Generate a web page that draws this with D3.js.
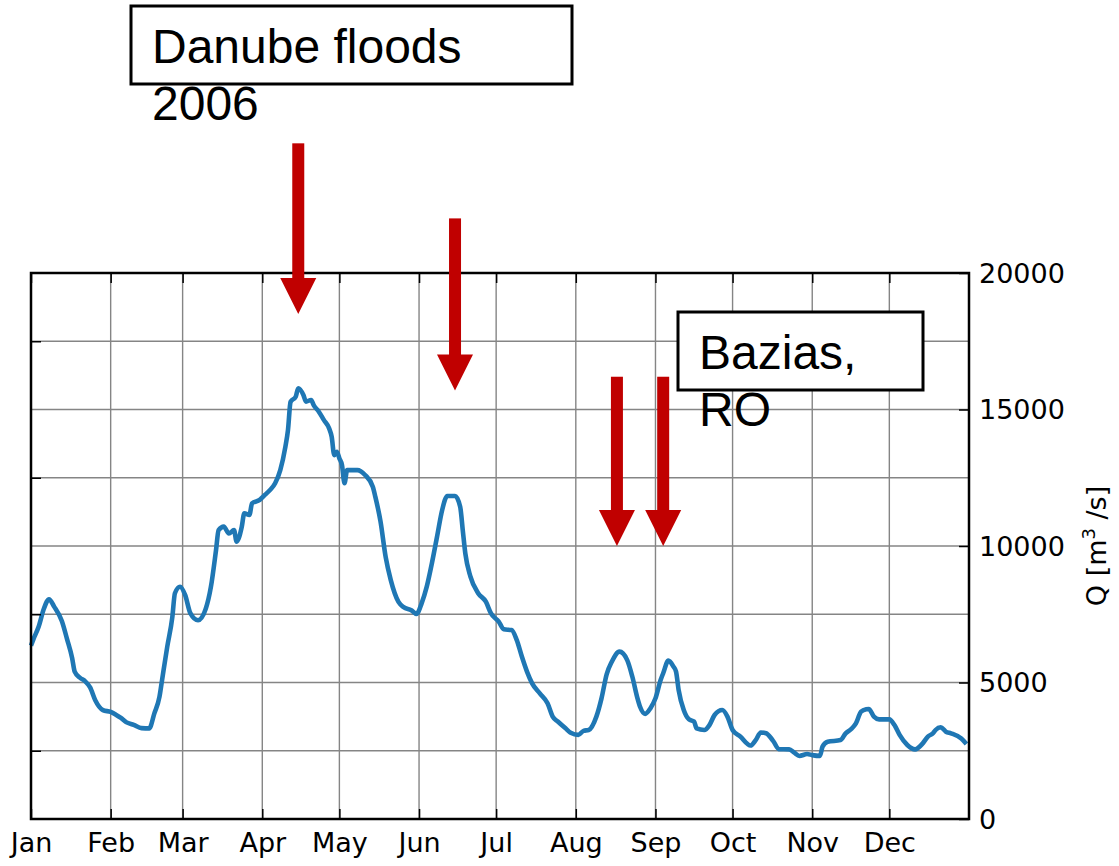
<!DOCTYPE html>
<html>
<head>
<meta charset="utf-8">
<script src="https://cdn.jsdelivr.net/npm/d3@7"></script>
<style>
  html, body { margin: 0; padding: 0; background: #fff; }
  svg { display: block; }
</style>
</head>
<body>
<div id="chart"></div>
<script>
// daily discharge at Bazias (RO), 2006
// day index counted from 1 Jan 2006
const dayOfYear = [
  0, 1, 3, 5, 7, 9, 12, 14, 16, 17, 19, 21, 23, 25, 28, 31, 33, 35, 37, 40, 43, 46, 48, 50, 51, 53, 55, 56, 58, 60,
  62, 65, 68, 70, 72, 73, 75, 77, 79, 80, 82, 83, 85, 86, 89, 91, 93, 95, 97, 99, 100, 101, 103, 104, 106, 107, 109, 110, 112, 114,
  116, 117, 118, 119, 120, 121, 122, 123, 127, 130, 133, 134, 136, 138, 140, 143, 145, 148, 150, 152, 154, 156, 158, 160, 162, 165, 167, 168, 169, 171,
  174, 177, 179, 182, 184, 187, 189, 191, 193, 195, 198, 201, 203, 205, 208, 210, 213, 215, 217, 220, 222, 224, 226, 229, 232, 234, 236, 237, 239, 241,
  243, 245, 246, 248, 250, 251, 252, 254, 256, 258, 259, 262, 264, 266, 269, 271, 273, 276, 280, 282, 284, 286, 288, 289, 291, 295, 297, 299, 302, 304,
  307, 308, 310, 315, 317, 319, 321, 323, 325, 326, 328, 330, 334, 336, 338, 341, 344, 347, 349, 351, 352, 354, 356, 358, 362, 364
];
const flow = [
  6350, 6600, 7050, 7700, 8050, 7780, 7250, 6600, 5900, 5400, 5180, 5050, 4820, 4350, 3990, 3920, 3820, 3700, 3550, 3450, 3330, 3320, 3870, 4480, 5090, 6300, 7400, 8270, 8510, 8200,
  7540, 7280, 7700, 8500, 9850, 10580, 10710, 10460, 10580, 10160, 10700, 11200, 11140, 11560, 11690, 11870, 12050, 12300, 12780, 13640, 14250, 15280, 15470, 15780, 15530, 15290, 15350, 15160, 14920, 14610,
  14310, 14000, 13330, 13450, 13210, 12970, 12300, 12780, 12780, 12600, 12170, 11800, 10900, 9600, 8750, 7950, 7760, 7650, 7510, 7900, 8510, 9370, 10340, 11320, 11830, 11830, 11440, 10590, 9730, 8880,
  8270, 7960, 7530, 7230, 6950, 6920, 6560, 5950, 5400, 4970, 4600, 4240, 3750, 3570, 3320, 3160, 3080, 3230, 3260, 3750, 4420, 5300, 5760, 6130, 5820, 5210, 4420, 4110, 3850, 4050,
  4420, 5090, 5340, 5800, 5580, 5400, 4730, 3990, 3650, 3570, 3320, 3260, 3440, 3810, 3990, 3750, 3260, 3020, 2690, 2890, 3170, 3140, 2960, 2830, 2560, 2550, 2430, 2310, 2380, 2340,
  2310, 2650, 2830, 2890, 3140, 3280, 3500, 3930, 4020, 4030, 3750, 3650, 3650, 3440, 3080, 2710, 2550, 2770, 3020, 3140, 3260, 3360, 3200, 3140, 2950, 2750
];

const yTickValues = [0, 5000, 10000, 15000, 20000];
const yGridValues = [2500, 5000, 7500, 10000, 12500, 15000, 17500];
const leftTickValues = [2500, 7500, 12500, 17500];

// red flood arrows: date, top of shaft and tip (in m3/s)
const arrowDates = ["2006-04-15", "2006-06-15", "2006-08-17", "2006-09-04"];
const arrowTops = [24750, 22000, 16200, 16200];
const arrowTips = [18500, 15700, 10000, 10000];

const width = 1119, height = 866;
const margin = { top: 273, right: 150, bottom: 47, left: 31 };

const parse = d3.timeParse("%Y-%m-%d");
const start = new Date(2006, 0, 1), end = new Date(2007, 0, 1);
const data = dayOfYear.map((d, i) => ({ date: d3.timeDay.offset(start, d), value: flow[i] }));

const svg = d3.select("#chart").append("svg")
  .attr("width", width).attr("height", height);

const x = d3.scaleTime().domain([start, end]).range([margin.left, width - margin.right]);
const y = d3.scaleLinear().domain([0, 20000]).range([height - margin.bottom, margin.top]);

const months = d3.timeMonth.range(start, end);

// grid
svg.append("g").selectAll("line.vg").data(months.slice(1)).enter().append("line")
  .attr("x1", d => x(d)).attr("x2", d => x(d))
  .attr("y1", y(0)).attr("y2", y(20000))
  .attr("stroke", "#858585").attr("stroke-width", 1.4);
svg.append("g").selectAll("line.hg").data(yGridValues).enter().append("line")
  .attr("x1", x(start)).attr("x2", x(end))
  .attr("y1", d => y(d)).attr("y2", d => y(d))
  .attr("stroke", "#858585").attr("stroke-width", 1.4);

// flow line
const line = d3.line().x(d => x(d.date)).y(d => y(d.value)).curve(d3.curveMonotoneX);
svg.append("path").datum(data)
  .attr("d", line)
  .attr("fill", "none")
  .attr("stroke", "#1f77b4")
  .attr("stroke-width", 4.6)
  .attr("stroke-linejoin", "round");

// axes
const tickFont = "DejaVu Sans, sans-serif";
const xAxis = svg.append("g").attr("transform", `translate(0,${y(0)})`)
  .call(d3.axisBottom(x).tickValues(months).tickFormat(d3.timeFormat("%b")).tickSizeInner(-10).tickSizeOuter(0));
xAxis.selectAll("text").attr("y", 33).attr("dy", 0)
  .style("font-family", tickFont).style("font-size", "27px").attr("fill", "#000");

svg.append("g").attr("transform", `translate(0,${y(20000)})`)
  .call(d3.axisTop(x).tickValues(months).tickFormat("").tickSizeInner(-10).tickSizeOuter(0));

const yAxis = svg.append("g").attr("transform", `translate(${x(end)},0)`)
  .call(d3.axisRight(y).tickValues(yTickValues).tickFormat(d3.format("d")).tickSizeInner(-10).tickSizeOuter(0).tickPadding(10));
yAxis.selectAll("text").attr("dy", "0.35em")
  .style("font-family", tickFont).style("font-size", "27px").attr("fill", "#000");

svg.append("g").attr("transform", `translate(${x(start)},0)`)
  .call(d3.axisLeft(y).tickValues(leftTickValues).tickFormat("").tickSizeInner(-10).tickSizeOuter(0));

svg.selectAll(".tick line").attr("stroke", "#000").attr("stroke-width", 1.5);
svg.selectAll(".domain").remove();

// frame
svg.append("rect")
  .attr("x", x(start)).attr("y", y(20000))
  .attr("width", x(end) - x(start)).attr("height", y(0) - y(20000))
  .attr("fill", "none").attr("stroke", "#000").attr("stroke-width", 2.5);

// y label
const yl = svg.append("text")
  .attr("transform", `translate(1106,${(y(0) + y(20000)) / 2}) rotate(-90)`)
  .attr("text-anchor", "middle")
  .style("font-family", tickFont).style("font-size", "27px");
yl.append("tspan").text("Q [m");
yl.append("tspan").attr("dy", -11).style("font-size", "18px").text("3");
yl.append("tspan").attr("dy", 11).text(" /s]");

// arrows
const arrows = svg.append("g").attr("fill", "#c00000");
arrowDates.forEach((ds, i) => {
  const ax = x(parse(ds));
  const top = y(arrowTops[i]), tip = y(arrowTips[i]);
  const head = 36, shaft = 12;
  arrows.append("rect")
    .attr("x", ax - shaft / 2).attr("y", top)
    .attr("width", shaft).attr("height", tip - head - top + 1);
  arrows.append("path")
    .attr("d", `M${ax - head / 2},${tip - head}L${ax + head / 2},${tip - head}L${ax},${tip}Z`);
});

// text boxes
const labelFont = "Liberation Sans, Arial, sans-serif";
const boxes = [
  { x: 131, y: 6, w: 441, h: 78, lines: ["Danube floods", "2006"] },
  { x: 678, y: 312, w: 245, h: 78, lines: ["Bazias,", "RO"] }
];
boxes.forEach(b => {
  svg.append("rect")
    .attr("x", b.x).attr("y", b.y).attr("width", b.w).attr("height", b.h)
    .attr("fill", "#fff").attr("stroke", "#000").attr("stroke-width", 3);
  b.lines.forEach((t, j) => {
    svg.append("text")
      .attr("x", b.x + 21).attr("y", b.y + 57 + j * 57)
      .style("font-family", labelFont).style("font-size", "48px")
      .attr("fill", "#000")
      .text(t);
  });
});
</script>
</body>
</html>
